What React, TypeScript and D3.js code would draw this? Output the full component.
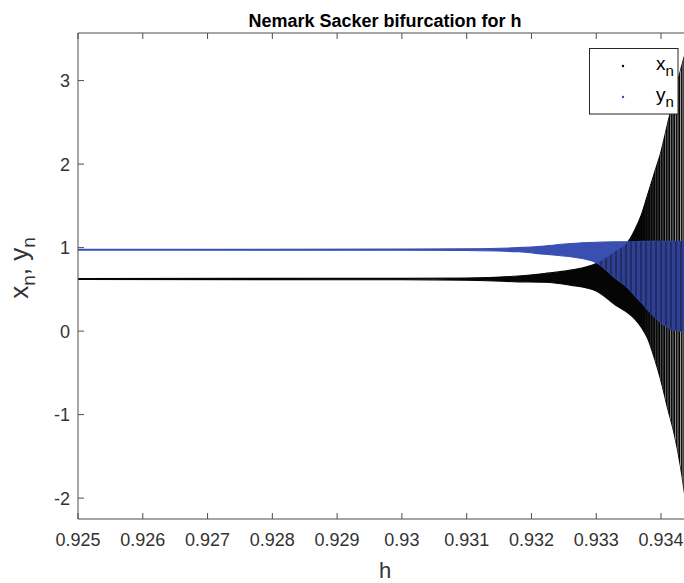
import * as d3 from 'd3';

// Bifurcation envelopes (h, lower and upper bound of the orbit)
const hValues = [0.925, 0.93, 0.931, 0.9318, 0.9322, 0.9326, 0.933, 0.9333, 0.9335, 0.9336, 0.9337, 0.9338, 0.9339, 0.934, 0.9341, 0.9342, 0.9343, 0.9344];
const xLow = [0.618, 0.615, 0.61, 0.59, 0.585, 0.55, 0.48, 0.31, 0.21, 0.14, 0.04, -0.1, -0.33, -0.6, -0.92, -1.22, -1.62, -2.15];
const xHigh = [0.63, 0.632, 0.636, 0.66, 0.69, 0.73, 0.81, 0.96, 1.08, 1.22, 1.4, 1.65, 1.9, 2.15, 2.48, 2.8, 3.12, 3.4];
const yLow = [0.97, 0.968, 0.965, 0.95, 0.92, 0.89, 0.82, 0.63, 0.51, 0.42, 0.34, 0.25, 0.17, 0.1, 0.05, 0.01, 0.0, -0.01];
const yHigh = [0.98, 0.982, 0.985, 1.0, 1.02, 1.05, 1.065, 1.07, 1.07, 1.07, 1.075, 1.075, 1.075, 1.075, 1.075, 1.075, 1.075, 1.075];

const xTicks = [0.925, 0.926, 0.927, 0.928, 0.929, 0.93, 0.931, 0.932, 0.933, 0.934];
const xTickLabels = ['0.925', '0.926', '0.927', '0.928', '0.929', '0.93', '0.931', '0.932', '0.933', '0.934'];
const yTicks = [-2, -1, 0, 1, 2, 3];

const BLUE = '#3a4fb2';
const TEXT = '#333333';
const FONT = "'Liberation Sans', Arial, sans-serif";

export default function App() {
  const width = 684;
  const height = 583;
  const left = 78, right = 693.4, top = 33, bottom = 519;

  const x = d3.scaleLinear().domain([0.925, 0.9345]).range([left, right]);
  const y = d3.scaleLinear().domain([-2.25, 3.57]).range([bottom, top]);

  const idx = hValues.map((_, i) => i);
  const areaOf = (lo: number[], hi: number[]) =>
    d3.area<number>()
      .x(i => x(hValues[i]))
      .y0(i => y(lo[i]))
      .y1(i => y(hi[i]))
      .curve(d3.curveMonotoneX)(idx) as string;

  const blackPath = areaOf(xLow, xHigh);
  const bluePath = areaOf(yLow, yHigh);
  const fadeStart = x(0.9337);

  return (
    <svg width={width} height={height} style={{ position: 'absolute', left: 0, top: 0, background: '#fff' }} fontFamily={FONT}>
      <defs>
        <clipPath id="plotClip">
          <rect x={left} y={top} width={right - left} height={bottom - top} />
        </clipPath>
        <clipPath id="blueClip">
          <path d={bluePath} />
        </clipPath>
        <pattern id="stripes" width={5} height={4} patternUnits="userSpaceOnUse">
          <rect x={0} y={0} width={2} height={4} fill="#000" opacity={0.3} />
        </pattern>
        <pattern id="sheen" width={2.5} height={3} patternUnits="userSpaceOnUse">
          <rect x={0} y={0} width={0.9} height={3} fill="#fff" />
        </pattern>
        <linearGradient id="fadeGrad" gradientUnits="userSpaceOnUse" x1={fadeStart} x2={684} y1={0} y2={0}>
          <stop offset="0" stopColor="#fff" stopOpacity={0} />
          <stop offset="1" stopColor="#fff" stopOpacity={0.75} />
        </linearGradient>
        <mask id="fadeMask" maskUnits="userSpaceOnUse">
          <rect x={fadeStart} y={top} width={right - fadeStart} height={bottom - top} fill="url(#fadeGrad)" />
        </mask>
      </defs>

      <rect x={0} y={0} width={width} height={height} fill="#fff" />

      {/* title */}
      <text x={385} y={26.5} textAnchor="middle" fontSize={18} fontWeight="bold" fill="#000">
        Nemark Sacker bifurcation for h
      </text>

      <g clipPath="url(#plotClip)">
        <path d={blackPath} fill="#050505" stroke="#050505" strokeWidth={1.1} />
        <path d={blackPath} fill="url(#sheen)" mask="url(#fadeMask)" />
        <path d={bluePath} fill={BLUE} stroke={BLUE} strokeWidth={1.1} />
        <g clipPath="url(#blueClip)">
          <path d={blackPath} fill="#000" opacity={0.18} />
          <path d={blackPath} fill="url(#stripes)" />
        </g>
      </g>

      {/* axes */}
      <g stroke="#4d4d4d" strokeWidth={1} fill="none">
        <line x1={left} x2={left} y1={top} y2={bottom} />
        <line x1={left} x2={right} y1={bottom} y2={bottom} />
        <line x1={left} x2={right} y1={top} y2={top} />
        {xTicks.map(t => (
          <g key={t}>
            <line x1={x(t)} x2={x(t)} y1={bottom} y2={bottom - 6} />
            <line x1={x(t)} x2={x(t)} y1={top} y2={top + 6} />
          </g>
        ))}
        {yTicks.map(t => (
          <line key={t} x1={left} x2={left + 6} y1={y(t)} y2={y(t)} />
        ))}
      </g>

      <g fontSize={18} fill={TEXT}>
        {xTicks.map((t, i) => (
          <text key={t} x={x(t)} y={546} textAnchor="middle">{xTickLabels[i]}</text>
        ))}
        {yTicks.map(t => (
          <text key={t} x={left - 8} y={y(t) + 6.4} textAnchor="end">{t}</text>
        ))}
      </g>

      {/* axis labels */}
      <text x={385} y={578} textAnchor="middle" fontSize={22} fill={TEXT}>h</text>
      <text transform="translate(28,268) rotate(-90)" textAnchor="middle" fontSize={26} fill={TEXT}>
        x<tspan fontSize={19} dy={7}>n</tspan><tspan dy={-7}>, y</tspan><tspan fontSize={19} dy={7}>n</tspan>
      </text>

      {/* legend */}
      <g>
        <rect x={589.5} y={48.5} width={88.5} height={65.5} fill="#fff" stroke="#262626" strokeWidth={1} />
        <circle cx={623} cy={66} r={1.2} fill="#000" />
        <circle cx={623} cy={97} r={1.2} fill={BLUE} />
        <text x={656} y={70} fontSize={19} fill="#000">
          x<tspan fontSize={15} dy={6}>n</tspan>
        </text>
        <text x={656} y={101} fontSize={19} fill="#000">
          y<tspan fontSize={15} dy={6}>n</tspan>
        </text>
      </g>
    </svg>
  );
}
